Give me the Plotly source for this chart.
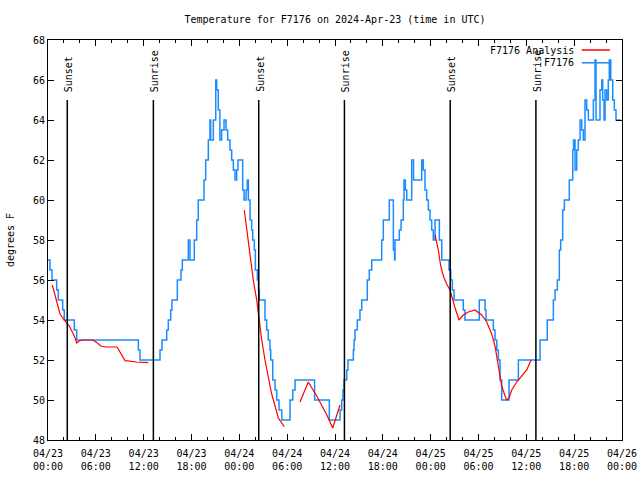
import pandas as pd
import plotly.graph_objects as go

START = pd.Timestamp("2024-04-23 00:00")
END = pd.Timestamp("2024-04-26 00:00")

# Observed temperature (hours since 04/23 00:00 UTC, deg F) - step changes
obs_hours = [0.00, 0.25, 0.50, 1.09, 1.29, 1.84, 2.04, 3.30, 3.60, 11.33, 11.54,
             14.05, 14.30, 14.89, 15.09, 15.39, 15.55, 16.22, 16.68, 16.85, 17.60,
             17.81, 18.35, 18.65, 18.85, 19.57, 19.78, 20.11, 20.32, 20.41, 20.74,
             21.04, 21.16, 21.36, 21.56, 21.78, 22.08, 22.33, 22.54, 22.83, 23.04,
             23.25, 23.46, 23.67, 23.83, 24.42, 24.59, 24.84, 25.00, 25.13, 25.34,
             25.55, 25.68, 25.88, 26.01, 26.26, 26.41, 26.51, 27.22, 27.43, 27.63,
             27.84, 27.94, 28.19, 28.48, 28.69, 28.98, 29.32, 30.36, 30.70, 30.99,
             33.44, 35.29, 36.63, 36.84, 37.00, 37.13, 37.47, 37.63, 38.30, 38.39,
             38.51, 38.80, 39.13, 39.35, 40.05, 40.30, 40.61, 41.86, 42.06, 42.81,
             43.32, 43.47, 43.53, 44.07, 44.29, 44.57, 44.66, 44.82, 45.00, 45.62,
             45.85, 46.88, 47.08, 47.29, 47.50, 47.71, 47.92, 48.13, 48.33, 48.55,
             49.09, 49.39, 50.30, 50.52, 50.72, 50.93, 52.09, 52.30, 54.10, 54.82,
             54.94, 55.86, 56.07, 56.29, 56.49, 56.70, 56.91, 57.83, 59.00, 61.72,
             62.63, 63.39, 63.60, 63.89, 64.14, 64.31, 64.56, 64.77, 65.39, 65.82,
             65.92, 66.11, 66.32, 66.52, 66.74, 66.95, 67.15, 67.36, 67.57, 67.78,
             68.41, 68.62, 68.74, 69.24, 69.46, 69.58, 69.75, 69.87, 70.08, 70.28,
             70.41, 70.59, 70.84, 71.04, 71.25, 71.84]
obs_temp = [57, 56.5, 56, 55.5, 55, 54.5, 54, 53.5, 53, 52.5, 52,
            52.5, 53, 53.5, 54, 54.5, 55, 56, 56.5, 57, 58,
            57, 58, 59, 60, 61, 62, 63, 64, 63, 64,
            66, 65.5, 64.5, 63, 63.5, 64, 63.5, 63, 62.5, 62,
            61.5, 61, 61.5, 62, 60.5, 60, 60.5, 61, 60, 59,
            58.5, 58, 57.5, 56.5, 56, 55.5, 55, 54, 53.5, 53,
            52.5, 52, 51, 50.5, 50, 49.5, 49, 50, 50.5, 51,
            50, 49, 49.5, 50, 50.5, 51, 51.5, 52, 52.5, 53,
            53.5, 54, 54.5, 55, 56, 56.5, 57, 58, 59, 60,
            57.5, 57, 58, 58.5, 59, 60, 61, 60.5, 60, 62,
            61, 62, 61.5, 60.5, 60, 59.5, 59, 58.5, 58, 59,
            58, 57, 56.5, 56, 55.5, 55, 54.5, 54, 55, 54.5,
            54, 53.5, 53, 52.5, 52, 51, 50, 51, 52, 53,
            54, 55, 55.5, 56, 57.5, 58, 59.5, 60, 61, 62.5,
            63, 61.5, 62.5, 63, 64, 63.5, 63, 65, 64.5, 64,
            65, 67, 64, 65.5, 66, 65, 64, 65.5, 65, 66,
            67, 66, 65, 64.5, 64, 64]

# Analysis curve, four separate pieces
ana1_hours = [0.54, 1.09, 1.51, 2.04, 2.67, 3.30, 3.60, 3.93, 4.35, 5.61, 6.02,
              6.65, 7.28, 8.66, 9.25, 9.66, 11.13, 12.58]
ana1_temp = [55.75, 55.0, 54.3, 54.0, 53.7, 53.2, 52.85, 52.95, 53.0, 53.0, 52.9,
             52.7, 52.65, 52.65, 52.25, 51.97, 51.9, 51.87]
ana2_hours = [24.62, 24.93, 25.25, 25.75, 26.18, 26.47, 26.81, 27.22, 27.64, 28.06,
              28.48, 28.89, 29.64]
ana2_temp = [59.5, 58.5, 57.5, 56.0, 55.0, 54.0, 53.0, 52.0, 51.2, 50.3, 49.7, 49.1, 48.67]
ana3_hours = [31.61, 32.65, 33.71, 34.33, 35.04, 35.71, 36.22, 36.63]
ana3_temp = [49.9, 50.9, 50.2, 49.75, 49.2, 48.6, 49.2, 49.75]
ana4_hours = [48.55, 48.96, 49.26, 49.59, 50.01, 50.43, 51.06, 51.56, 52.10, 52.72,
              53.56, 54.40, 55.03, 55.66, 56.07, 56.49, 56.91, 57.33, 57.54, 57.83,
              58.17, 58.79, 59.42, 60.05, 60.59]
ana4_temp = [58.25, 57.5, 56.7, 56.2, 55.8, 55.5, 54.6, 54.0, 54.25, 54.4,
             54.5, 54.25, 53.9, 53.3, 52.7, 51.7, 50.7, 50.2, 50.0, 50.1,
             50.5, 50.9, 51.2, 51.5, 52.0]

sun_times = ["2024-04-23 02:25", "2024-04-23 13:13", "2024-04-24 02:26",
             "2024-04-24 13:11", "2024-04-25 02:27", "2024-04-25 13:12"]
sun_labels = ["Sunset", "Sunrise", "Sunset", "Sunrise", "Sunset", "Sunrise"]
sun_line_top = 65

y_ticks = [48, 50, 52, 54, 56, 58, 60, 62, 64, 66, 68]

FONT = "DejaVu Sans Mono"
BLUE = "#1a8cff"
RED = "#ff0000"


def to_time(hours):
    return [START + pd.Timedelta(hours=h) for h in hours]


fig = go.Figure()

fig.add_trace(go.Scatter(x=to_time(obs_hours), y=obs_temp, mode="lines",
                         line=dict(color=BLUE, width=1.5, shape="hv"),
                         name="F7176", showlegend=False))
for hh, tt in [(ana1_hours, ana1_temp), (ana2_hours, ana2_temp),
               (ana3_hours, ana3_temp), (ana4_hours, ana4_temp)]:
    fig.add_trace(go.Scatter(x=to_time(hh), y=tt, mode="lines",
                             line=dict(color=RED, width=1.2),
                             name="F7176 Analysis", showlegend=False))

for t, lab in zip(sun_times, sun_labels):
    fig.add_shape(type="line", xref="x", yref="y", x0=t, x1=t, y0=48, y1=sun_line_top,
                  line=dict(color="black", width=1.5), layer="above")
    fig.add_annotation(x=t, y=sun_line_top, xref="x", yref="y", text=lab,
                       textangle=-90, showarrow=False, xanchor="center",
                       yanchor="bottom", yshift=6, xshift=1,
                       font=dict(family=FONT, size=10, color="black"))

# key (top right), text to the left of sample line as in the source
legend_items = [("F7176 Analysis", RED, 0.975), ("F7176", BLUE, 0.943)]
for text, col, yy in legend_items:
    fig.add_annotation(x=0.919, y=yy, xref="paper", yref="paper", text=text,
                       showarrow=False, xanchor="right", yanchor="middle",
                       font=dict(family=FONT, size=10, color="black"))
    fig.add_shape(type="line", xref="paper", yref="paper", x0=0.930, x1=0.979,
                  y0=yy, y1=yy, line=dict(color=col, width=1.5))

fig.add_annotation(x=-0.066, y=0.5, xref="paper", yref="paper", text="degrees F",
                   textangle=-90, showarrow=False, xanchor="center", yanchor="middle",
                   font=dict(family=FONT, size=10, color="black"))

fig.update_layout(
    width=640, height=480,
    margin=dict(l=48, r=18, t=40, b=40),
    paper_bgcolor="white", plot_bgcolor="white",
    title=dict(text="Temperature for F7176 on 2024-Apr-23 (time in UTC)",
               x=0.5, xref="paper", xanchor="center", y=1 - 19 / 480, yanchor="middle",
               font=dict(family=FONT, size=10, color="black")),
    font=dict(family=FONT, size=10, color="black"),
    showlegend=False,
)
fig.update_xaxes(range=[START, END], type="date", dtick=6 * 3600 * 1000,
                 tick0=START, tickformat="%m/%d<br>%H:%M", automargin=False,
                 ticklabelstandoff=4,
                 ticks="inside", ticklen=6, tickcolor="black", tickwidth=1,
                 minor=dict(dtick=2 * 3600 * 1000, ticks="inside", ticklen=3,
                            tickcolor="black", showgrid=False),
                 showline=True, linecolor="black", linewidth=1, mirror="ticks",
                 showgrid=False, zeroline=False,
                 tickfont=dict(family=FONT, size=10, color="black"))
fig.update_yaxes(range=[48, 68], tickvals=y_ticks, ticktext=[str(v) for v in y_ticks],
                 automargin=False,
                 ticks="inside", ticklen=6, tickcolor="black", tickwidth=1,
                 showline=True, linecolor="black", linewidth=1, mirror="ticks",
                 showgrid=False, zeroline=False,
                 tickfont=dict(family=FONT, size=10, color="black"))

fig.write_html("out.html", config={"displayModeBar": False},
               post_script="document.body.style.margin='0';document.body.style.overflow='hidden';")
